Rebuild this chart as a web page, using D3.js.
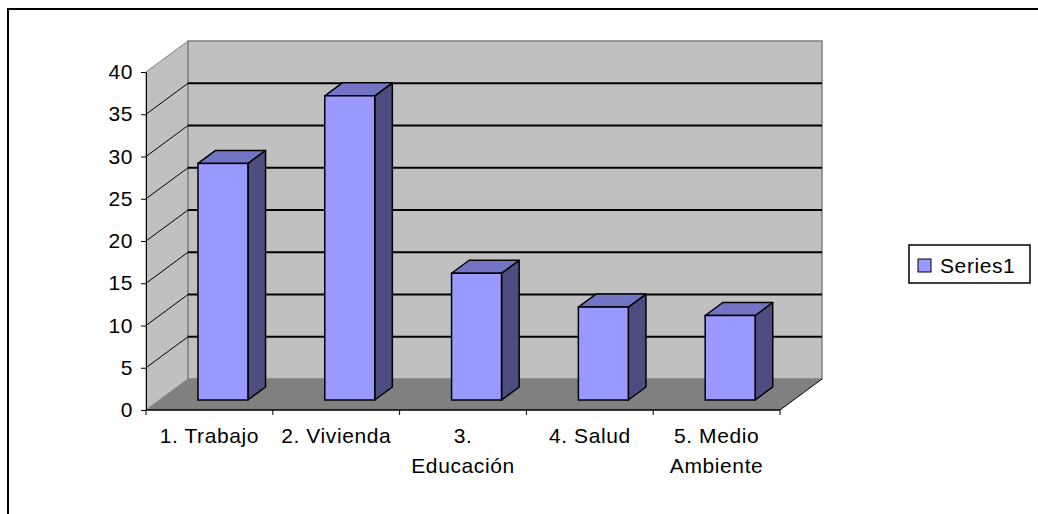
<!DOCTYPE html>
<html>
<head>
<meta charset="utf-8">
<title>Series1</title>
<script src="https://d3js.org/d3.v7.min.js"></script>
<style>
body { margin: 0; background: #fff; }
text { font-family: "Liberation Sans", Arial, sans-serif; font-size: 21px; fill: #000; letter-spacing: 0.6px; }
.axis path, .axis line { stroke: #000; }
</style>
</head>
<body>
<svg id="chart" width="1038" height="514"></svg>
<script>
var categories = ["1. Trabajo", "2. Vivienda", "3. Educación", "4. Salud", "5. Medio Ambiente"];
var labelLines = [["1. Trabajo"], ["2. Vivienda"], ["3.", "Educación"], ["4. Salud"], ["5. Medio", "Ambiente"]];
var values = [28, 36, 15, 11, 10];
var yTicks = [0, 5, 10, 15, 20, 25, 30, 35, 40];
var seriesName = "Series1";

var svg = d3.select("#chart");

// frame round the whole chart
svg.append("rect")
  .attr("x", 8).attr("y", 9)
  .attr("width", 1040).attr("height", 520)
  .attr("fill", "#fff").attr("stroke", "#000").attr("stroke-width", 2);

var x = d3.scaleBand().domain(categories).range([146, 780]);
var y = d3.scaleLinear().domain([0, 40]).range([410, 72]);

// depth of the 3d box
var dx = 42, dy = -31;
var x0 = x.range()[0], x1 = x.range()[1];
var yTop = y(40), yBot = y(0);

var walls = svg.append("g");
// side wall
walls.append("path")
  .attr("d", `M${x0},${yBot} L${x0},${yTop} L${x0+dx},${yTop+dy} L${x0+dx},${yBot+dy} Z`)
  .attr("fill", "#c0c0c0").attr("stroke", "#808080");
// back wall
walls.append("rect")
  .attr("x", x0 + dx).attr("y", yTop + dy)
  .attr("width", x1 - x0).attr("height", yBot - yTop)
  .attr("fill", "#c0c0c0").attr("stroke", "#808080").attr("stroke-width", 1.5);
// floor
walls.append("path")
  .attr("d", `M${x0},${yBot} L${x1},${yBot} L${x1+dx},${yBot+dy} L${x0+dx},${yBot+dy} Z`)
  .attr("fill", "#808080").attr("stroke", "none");
walls.append("line")
  .attr("x1", x1).attr("y1", yBot).attr("x2", x1 + dx).attr("y2", yBot + dy)
  .attr("stroke", "#000");

// gridlines on back and side wall
var grid = yTicks.filter(d => d > 0 && d < 40);
walls.selectAll(".gback").data(grid).enter().append("line")
  .attr("x1", x0 + dx).attr("x2", x1 + dx)
  .attr("y1", d => y(d) + dy).attr("y2", d => y(d) + dy)
  .attr("stroke", "#000").attr("stroke-width", 2);
walls.selectAll(".gside").data(grid).enter().append("line")
  .attr("x1", x0).attr("x2", x0 + dx)
  .attr("y1", d => y(d)).attr("y2", d => y(d) + dy)
  .attr("stroke", "#000").attr("stroke-width", 1);

// bars
var front = 10 / 31, depth = 13 / 31;
var bw = x.bandwidth() * 0.394;
var fx = dx * front, fy = dy * front;
var bdx = dx * depth, bdy = dy * depth;
var bars = svg.append("g").selectAll("g").data(values).enter().append("g");
function bx(d, i) { return x(categories[i]) + (x.bandwidth() - bw) / 2 + fx; }
function btop(d) { return y(d) + fy; }
var bbot = y(0) + fy;
bars.append("path")
  .attr("d", (d, i) => {
    var a = bx(d, i) + bw, t = btop(d);
    return `M${a},${bbot} L${a},${t} L${a+bdx},${t+bdy} L${a+bdx},${bbot+bdy} Z`;
  })
  .attr("fill", "#4d4d80").attr("stroke", "#000").attr("stroke-width", 1.5).attr("stroke-linejoin", "round");
bars.append("path")
  .attr("d", (d, i) => {
    var a = bx(d, i), t = btop(d);
    return `M${a},${t} L${a+bw},${t} L${a+bw+bdx},${t+bdy} L${a+bdx},${t+bdy} Z`;
  })
  .attr("fill", "#7474c4").attr("stroke", "#000").attr("stroke-width", 1.5).attr("stroke-linejoin", "round");
bars.append("rect")
  .attr("x", bx).attr("y", btop)
  .attr("width", bw).attr("height", d => bbot - btop(d))
  .attr("fill", "#9999ff").attr("stroke", "#000").attr("stroke-width", 1.5);

// y axis
svg.append("g")
  .attr("class", "axis")
  .attr("transform", `translate(${x0},0)`)
  .call(d3.axisLeft(y).tickValues(yTicks).tickSize(5).tickSizeOuter(0).tickPadding(8))
  .call(g => g.selectAll("text").style("font-size", "21px").style("font-family", "'Liberation Sans', Arial, sans-serif").attr("fill", "#000"));

// x axis: line plus ticks at category boundaries
var xAxis = svg.append("g").attr("class", "axis");
xAxis.append("line")
  .attr("x1", x0).attr("x2", x1).attr("y1", yBot).attr("y2", yBot)
  .attr("stroke", "#000").attr("stroke-width", 1.5);
xAxis.selectAll(".bt").data(categories.map(c => x(c)).concat([x1])).enter().append("line")
  .attr("x1", d => d).attr("x2", d => d)
  .attr("y1", yBot).attr("y2", yBot + 5)
  .attr("stroke", "#000");
xAxis.selectAll(".lbl").data(categories).enter().append("text")
  .attr("text-anchor", "middle")
  .attr("transform", c => `translate(${x(c) + x.bandwidth() / 2},443)`)
  .each(function(c, i) {
    var t = d3.select(this);
    labelLines[i].forEach((s, k) => {
      t.append("tspan").attr("x", 0).attr("y", k * 30).text(s);
    });
  });

// legend
var lg = svg.append("g").attr("transform", "translate(909,245)");
lg.append("rect").attr("width", 121).attr("height", 38)
  .attr("fill", "#fff").attr("stroke", "#000").attr("stroke-width", 1.5);
lg.append("rect").attr("x", 9).attr("y", 14).attr("width", 13).attr("height", 13)
  .attr("fill", "#9999ff").attr("stroke", "#000");
lg.append("text").attr("x", 31).attr("y", 28).text(seriesName);
</script>
</body>
</html>
